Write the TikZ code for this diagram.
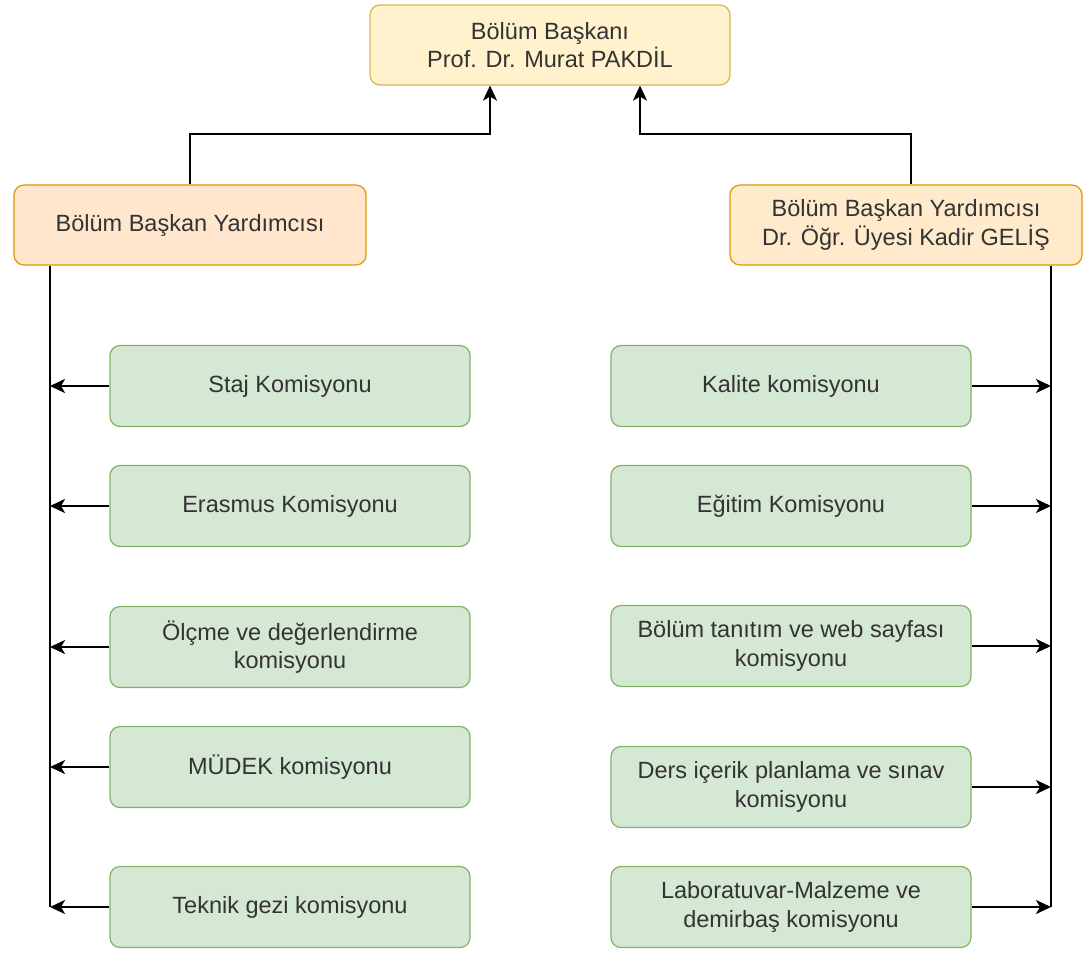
\documentclass[tikz,border=0pt]{standalone}
\usepackage{fontspec}
\setmainfont{Liberation Sans}
\usepackage{tikz}
\usetikzlibrary{arrows.meta}

\definecolor{metin}{HTML}{333333}
\definecolor{sariDolgu}{HTML}{FFF2CC}
\definecolor{sariCizgi}{HTML}{D6B656}
\definecolor{turuncuDolgu}{HTML}{FFE6CC}
\definecolor{turuncuCizgi}{HTML}{D79B00}
\definecolor{yesilDolgu}{HTML}{D5E8D4}
\definecolor{yesilCizgi}{HTML}{82B366}

\begin{document}
\begin{tikzpicture}[
		x=1pt, y=-1pt,
		every node/.style={rectangle, rounded corners=10pt, align=center, text=metin,
			font=\fontsize{23.5}{28.5}\selectfont, line width=1.2pt, inner sep=0pt},
		baskanbox/.style={fill=sariDolgu, draw=sariCizgi, minimum width=360pt, minimum height=80pt},
		yardimcibox/.style={fill=turuncuDolgu, draw=turuncuCizgi, minimum width=352pt, minimum height=80pt},
		komisyonbox/.style={fill=yesilDolgu, draw=yesilCizgi, minimum width=360pt, minimum height=81pt},
		ok/.style={line width=2.2pt, -{Stealth[length=15pt, width=14pt, inset=4pt]}},
		hat/.style={line width=2.2pt}
	]
  \useasboundingbox [fill=white] (0, 0) rectangle (1083, 952);
  \node (baskan) [baskanbox] at (550, 45) {Bölüm Başkanı\\Prof. Dr. Murat PAKDİL};
  \node (yrd_l) [yardimcibox] at (190, 225) {Bölüm Başkan Yardımcısı};
  \node (yrd_r) [yardimcibox, fill=turuncuDolgu!70!sariDolgu] at (906, 225) {Bölüm Başkan Yardımcısı\\Dr. Öğr. Üyesi Kadir GELİŞ};
  \node (staj) [komisyonbox] at (290, 386) {Staj Komisyonu};
  \node (erasmus) [komisyonbox] at (290, 506) {Erasmus Komisyonu};
  \node (olcme) [komisyonbox] at (290, 647) {Ölçme ve değerlendirme\\komisyonu};
  \node (mudek) [komisyonbox] at (290, 767) {MÜDEK komisyonu};
  \node (teknik) [komisyonbox] at (290, 907) {Teknik gezi komisyonu};
  \node (kalite) [komisyonbox] at (791, 386) {Kalite komisyonu};
  \node (egitim) [komisyonbox] at (791, 506) {Eğitim Komisyonu};
  \node (tanitim) [komisyonbox] at (791, 646) {Bölüm tanıtım ve web sayfası\\komisyonu};
  \node (ders) [komisyonbox] at (791, 787) {Ders içerik planlama ve sınav\\komisyonu};
  \node (lab) [komisyonbox] at (791, 907) {Laboratuvar-Malzeme ve\\demirbaş komisyonu};
  \coordinate (gövde_l) at (50, 907);
  \coordinate (gövde_r) at (1051, 907);
  \draw [ok] (yrd_l.north) -- ++(0, -50) -| ([xshift=-60pt]baskan.south);
  \draw [ok] ([xshift=5pt]yrd_r.north) -- ++(0, -50) -| ([xshift=90pt]baskan.south);
  \draw [hat] (yrd_l.south -| gövde_l) -- (gövde_l);
  \draw [hat] (yrd_r.south -| gövde_r) -- (gövde_r);
  \draw [ok] (staj.west) -- (staj.west -| gövde_l);
  \draw [ok] (erasmus.west) -- (erasmus.west -| gövde_l);
  \draw [ok] (olcme.west) -- (olcme.west -| gövde_l);
  \draw [ok] (mudek.west) -- (mudek.west -| gövde_l);
  \draw [ok] (teknik.west) -- (teknik.west -| gövde_l);
  \draw [ok] (kalite.east) -- (kalite.east -| gövde_r);
  \draw [ok] (egitim.east) -- (egitim.east -| gövde_r);
  \draw [ok] (tanitim.east) -- (tanitim.east -| gövde_r);
  \draw [ok] (ders.east) -- (ders.east -| gövde_r);
  \draw [ok] (lab.east) -- (lab.east -| gövde_r);
\end{tikzpicture}
\end{document}
